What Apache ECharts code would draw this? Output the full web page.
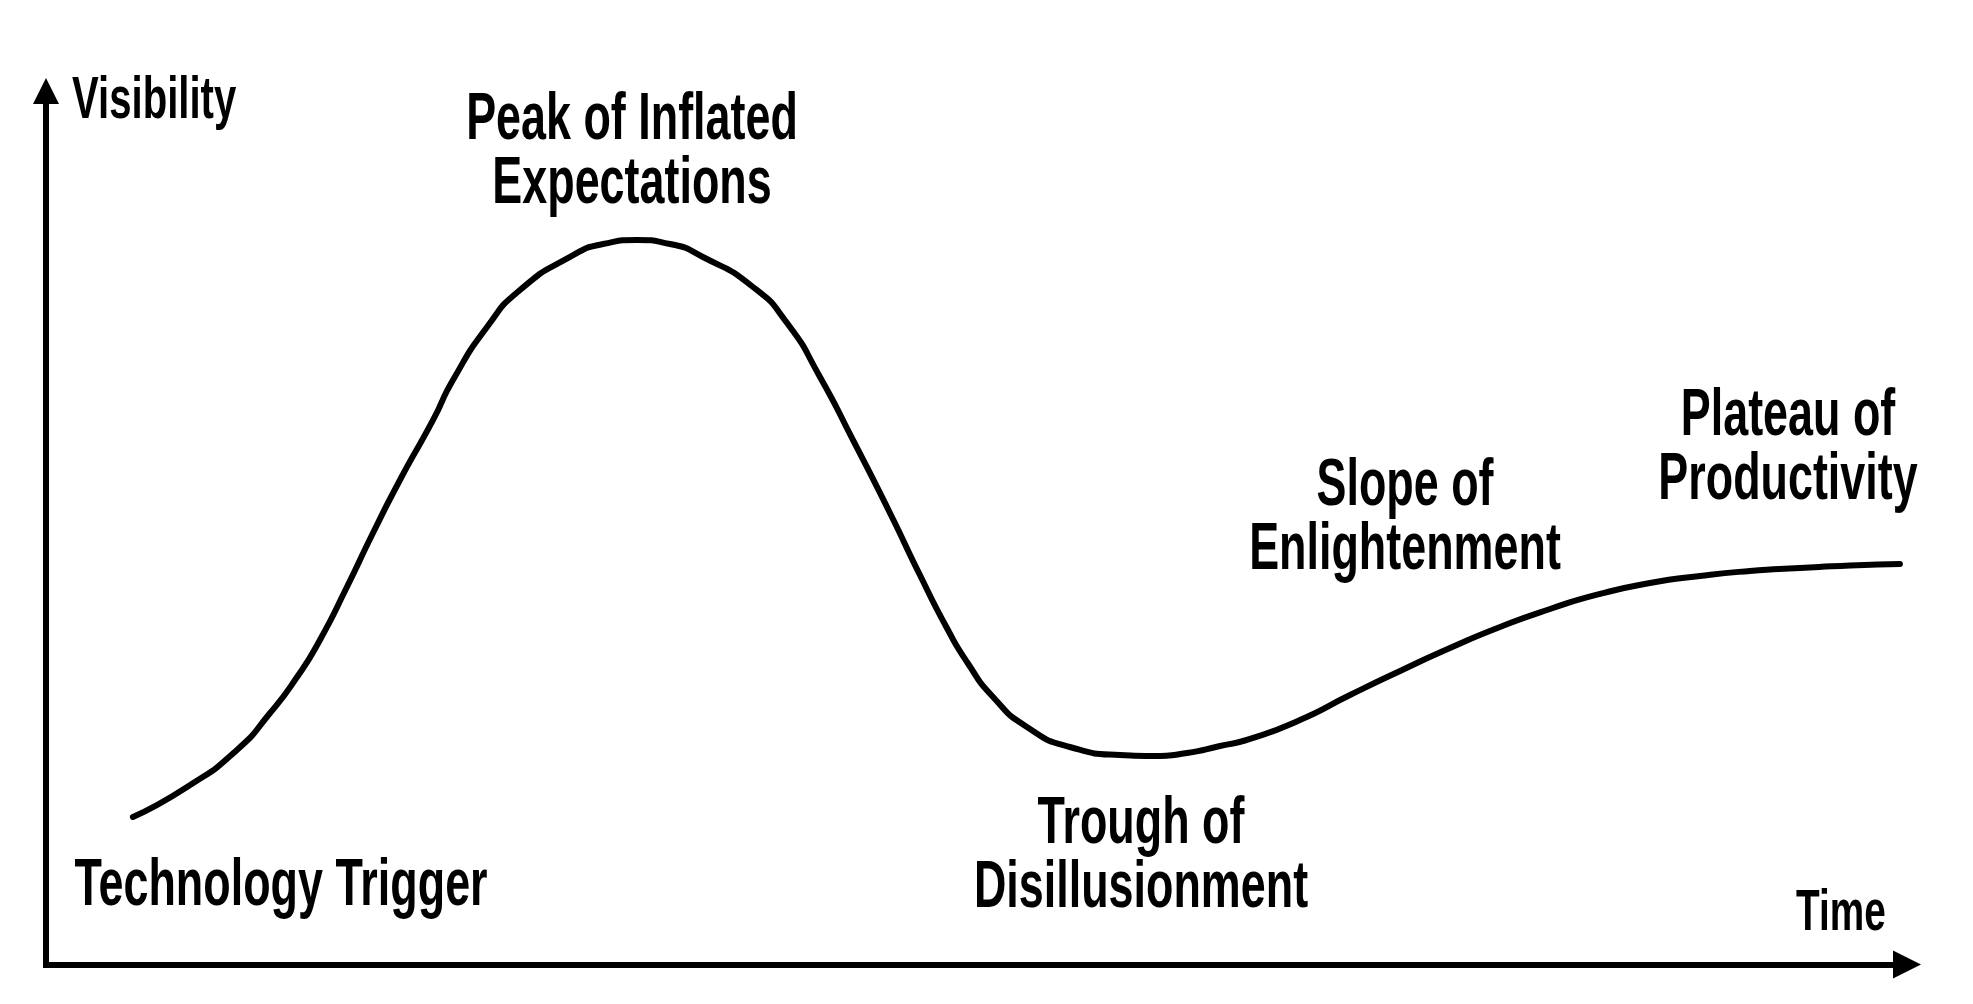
<!DOCTYPE html>
<html>
<head>
<meta charset="utf-8">
<title>Hype Cycle</title>
<script src="https://cdn.jsdelivr.net/npm/echarts@6/dist/echarts.min.js"></script>
<style>
  html, body { margin: 0; padding: 0; background: #fff; }
  #chart { width: 1973px; height: 1004px; }
</style>
</head>
<body>
<div id="chart"></div>
<script>
// curve: time (0-100) vs visibility (0-100)
var timeValues = [4.67, 7.58, 10.26, 12.04, 13.49, 14.72, 16.17, 17.57, 19.02, 20.80,
  21.87, 23.70, 25.47, 28.16, 29.93, 31.76, 33.53, 35.30, 37.99, 39.82,
  41.59, 43.36, 45.35, 46.96, 48.41, 49.49, 50.89, 52.71, 55.02, 57.71,
  59.48, 61.31, 63.08, 64.70, 67.38, 70.07, 72.76, 75.44, 78.13, 80.82,
  83.50, 86.19, 88.88, 91.56, 94.25, 96.94, 99.62];
var visibilityValues = [16.89, 20.32, 24.56, 28.79, 32.91, 37.15, 43.22, 49.40, 55.47, 62.34,
  66.91, 72.98, 77.22, 81.00, 82.48, 82.94, 82.48, 81.00, 77.56, 73.44,
  67.26, 60.05, 51.69, 44.59, 38.52, 34.63, 30.62, 27.19, 24.90, 23.98,
  23.87, 24.21, 25.01, 25.82, 27.99, 30.85, 33.60, 36.23, 38.64, 40.70,
  42.42, 43.67, 44.48, 45.05, 45.39, 45.68, 45.85];

var phaseLabels = ['Technology Trigger', 'Peak of Inflated\nExpectations', 'Trough of\nDisillusionment',
  'Slope of\nEnlightenment', 'Plateau of\nProductivity'];
var axisNames = ['Time', 'Visibility'];

var curve = timeValues.map(function (t, i) { return [t, visibilityValues[i]]; });

var myChart = echarts.init(document.getElementById('chart'));

// condensed look: bold face squeezed horizontally
function label(text, x, y, size, align) {
  return {
    type: 'text',
    x: x,
    y: y,
    scaleX: 0.68,
    silent: true,
    style: {
      text: text,
      fontFamily: 'Liberation Sans',
      fontWeight: 'bold',
      fontSize: size,
      lineHeight: 64,
      fill: '#000',
      align: align || 'center',
      textAlign: align || 'center',
      verticalAlign: 'middle',
      textVerticalAlign: 'middle'
    }
  };
}

var axisLine = function (size) {
  return {
    show: true,
    onZero: true,
    symbol: ['none', 'path://M5,0L10,10L0,10Z'],
    symbolSize: size,
    lineStyle: { color: '#000', width: 6, cap: 'square' }
  };
};

myChart.setOption({
  animation: false,
  backgroundColor: '#fff',
  grid: { left: 46, right: 66, top: 91, bottom: 39.5 },
  xAxis: {
    type: 'value',
    min: 0,
    max: 100,
    axisLine: axisLine([30, 28]),
    axisTick: { show: false },
    axisLabel: { show: false },
    splitLine: { show: false }
  },
  yAxis: {
    type: 'value',
    min: 0,
    max: 100,
    axisLine: axisLine([31, 26]),
    axisTick: { show: false },
    axisLabel: { show: false },
    splitLine: { show: false }
  },
  series: [{
    type: 'line',
    data: curve,
    smooth: 0.6,
    showSymbol: false,
    lineStyle: { color: '#000', width: 6, cap: 'round', join: 'round' }
  }],
  graphic: [
    label(axisNames[1], 72, 102, 59, 'left'),
    label(axisNames[0], 1841, 914, 57),
    label(phaseLabels[0], 281, 887, 66),
    label(phaseLabels[1], 632, 153, 66),
    label(phaseLabels[2], 1141, 857, 66),
    label(phaseLabels[3], 1405, 519, 66),
    label(phaseLabels[4], 1788, 449, 66)
  ]
});
</script>
</body>
</html>
